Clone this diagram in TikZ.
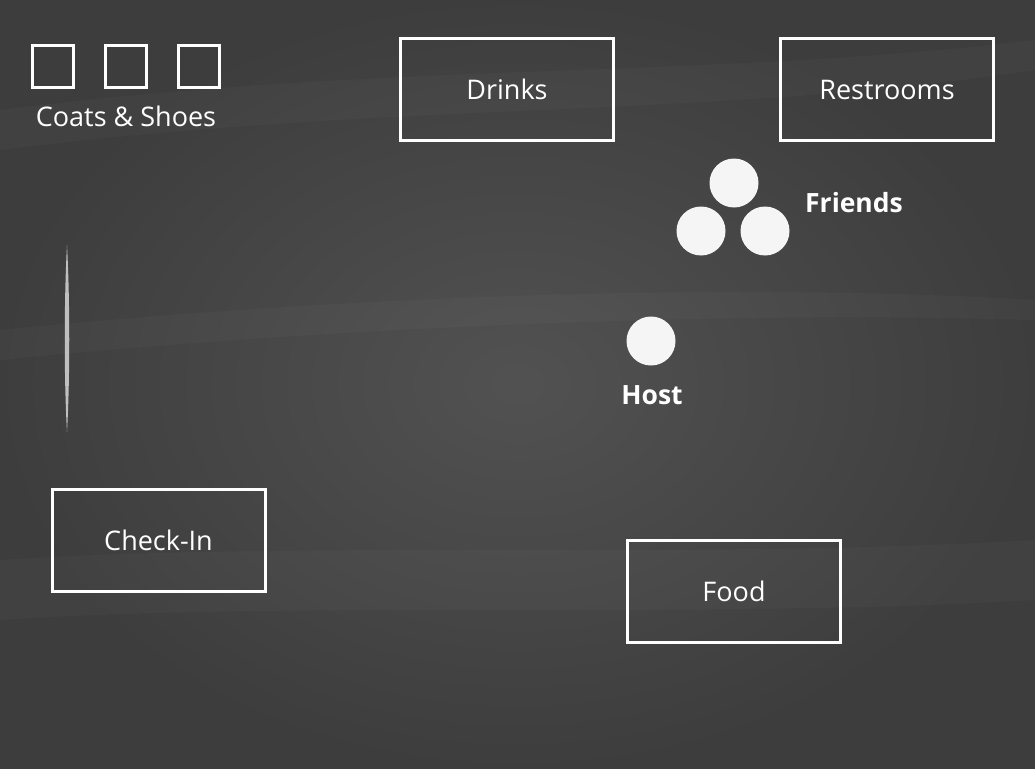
\documentclass[tikz,border=0pt]{standalone}
\usepackage{fontspec}
\setmainfont{Open Sans}
\begin{document}
\begin{tikzpicture}[x=1pt,y=-1pt,
  zone/.style={draw=white,line width=3pt,minimum width=213pt,minimum height=102pt,text=white,font=\fontsize{27}{30}\selectfont},
  locker/.style={draw=white,line width=3pt,minimum width=41pt,minimum height=41pt},
  person/.style={circle,fill=white!96!black,minimum size=49pt,inner sep=0pt},
  lbl/.style={text=white,font=\fontsize{26.5}{30}\selectfont\bfseries},
  plain/.style={text=white,font=\fontsize{27}{30}\selectfont}]
\useasboundingbox (0,0) rectangle (1035,768);
\fill[black!72] (0,0) rectangle (1035,768);
\shade[inner color=black!68,outer color=black!76] (0,0) rectangle (1035,768);
% chalk streaks
\begin{scope}[white,opacity=0.025]
\fill (0,110) .. controls (400,60) and (700,80) .. (1035,40) -- (1035,70) .. controls (700,120) and (400,100) .. (0,150) -- cycle;
\fill (0,330) .. controls (300,300) and (700,280) .. (1035,300) -- (1035,320) .. controls (700,310) and (300,330) .. (0,360) -- cycle;
\fill (0,560) .. controls (300,540) and (700,560) .. (1035,540) -- (1035,600) .. controls (700,620) and (300,600) .. (0,620) -- cycle;
\end{scope}
% chalk mark
\fill[white!75!black] (67,245) .. controls (70,300) and (70,380) .. (67,432) .. controls (64,380) and (64,300) .. (67,245) -- cycle;
% coats & shoes
\node[locker] (l1) at (52.5,66.5) {};
\node[locker] (l2) at (126,66.5) {};
\node[locker] (l3) at (198.5,66.5) {};
\node[plain] (coats) at (126,116) {Coats \& Shoes};
% zones
\node[zone] (drinks) at (507,89.5) {Drinks};
\node[zone] (rest) at (887,89.5) {Restrooms};
\node[zone] (check) at (158.5,540.5) {Check-In};
\node[zone] (food) at (734,591.5) {Food};
% people
\node[person] (f1) at (734,183) {};
\node[person] (f2) at (701,231) {};
\node[person] (f3) at (765,231) {};
\node[lbl] (friends) at (854,203) {Friends};
\node[person] (host) at (651,341) {};
\node[lbl] (hostl) at (652,395) {Host};
\end{tikzpicture}
\end{document}
